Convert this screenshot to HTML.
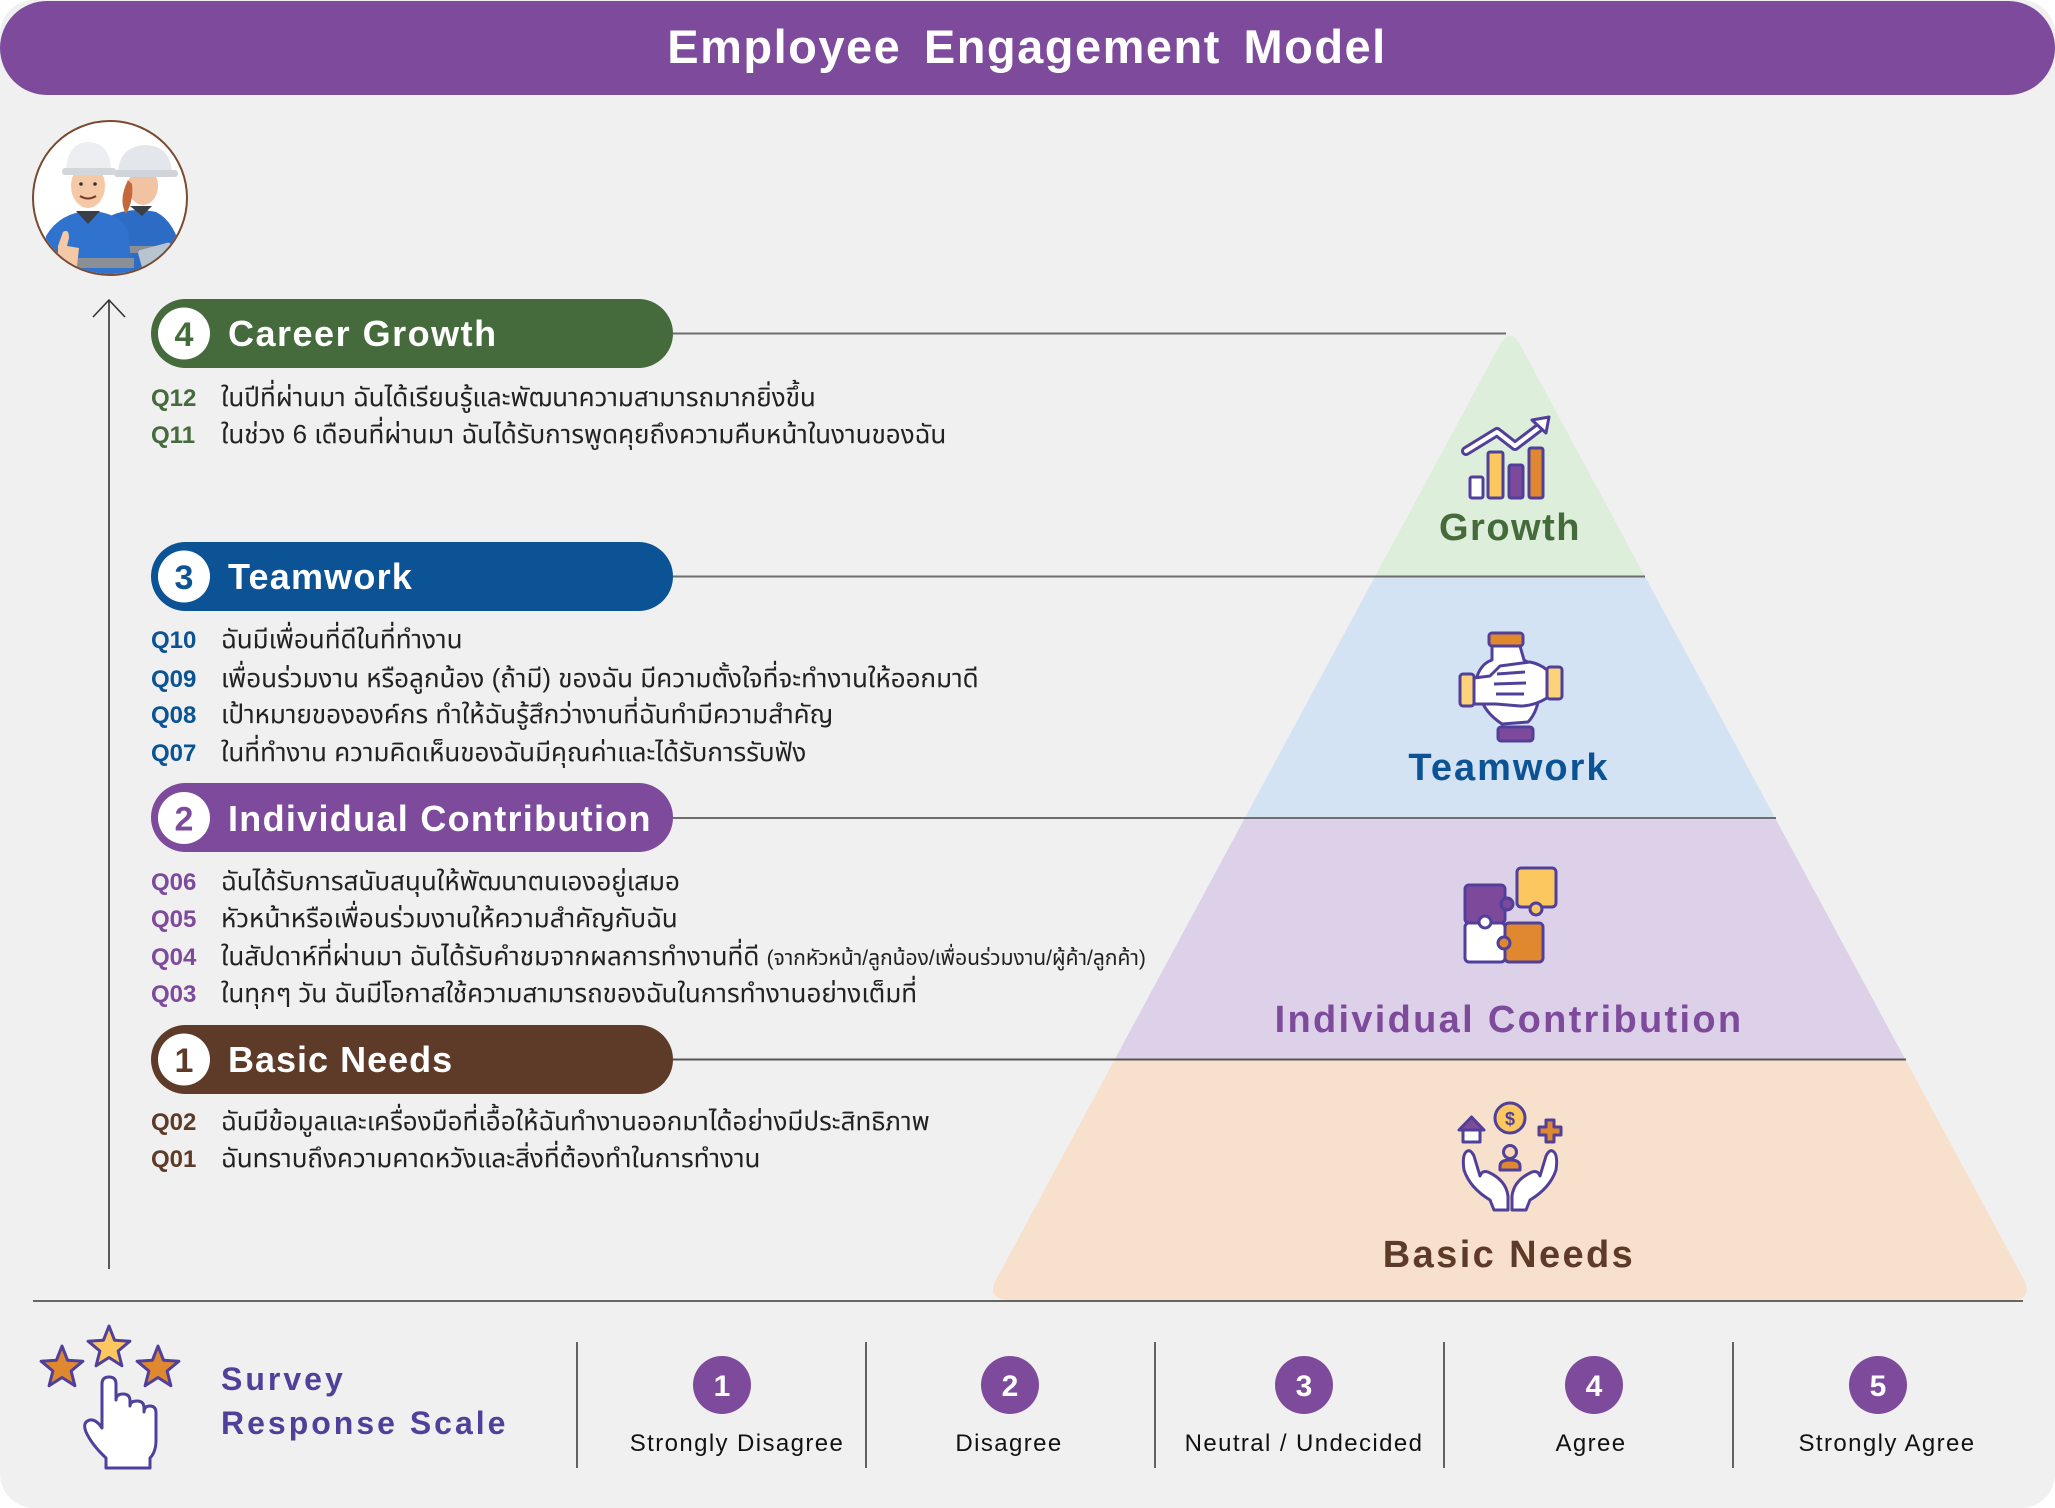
<!DOCTYPE html>
<html><head><meta charset="utf-8">
<style>
html,body{margin:0;padding:0;background:#ffffff;}
svg{display:block;}
.lat{font-family:"Liberation Sans",sans-serif;}
.th{font-family:"Liberation Sans","Noto Sans Thai","Loma","Garuda","DejaVu Sans",sans-serif;}
</style></head>
<body>
<svg width="2055" height="1508" viewBox="0 0 2055 1508" xmlns="http://www.w3.org/2000/svg">
<defs>
  <clipPath id="pyr">
    <path d="M 1499.6 345.4 Q 1510 326 1520.4 345.4 L 2023.1 1278 Q 2035 1300 2010 1300 L 1010 1300 Q 985 1300 996.9 1278 Z"/>
  </clipPath>
  <clipPath id="av"><circle cx="110" cy="198" r="76"/></clipPath>
</defs>

<!-- page -->
<rect x="0" y="0" width="2055" height="1508" rx="34" fill="#f0f0f0"/>

<!-- title bar -->
<rect x="0" y="1" width="2055" height="94" rx="47" fill="#7e4a9c"/>
<text x="1027" y="63" class="lat" font-size="47" font-weight="bold" fill="#ffffff" text-anchor="middle" letter-spacing="1.5" word-spacing="8">Employee Engagement Model</text>

<!-- avatar -->
<circle cx="110" cy="198" r="77" fill="#ffffff" stroke="#7a4a30" stroke-width="2"/>
<g clip-path="url(#av)">
  <!-- woman (back) -->
  <path d="M 106 218 Q 128 206 156 212 Q 176 222 182 256 L 186 290 L 100 290 Z" fill="#2c6cc4"/>
  <rect x="100" y="246" width="88" height="7" fill="#8a8f96"/>
  <path d="M 130 206 L 142 216 L 152 206 Z" fill="#3a3f45"/>
  <ellipse cx="143" cy="186" rx="15" ry="19" fill="#f2c3a3"/>
  <path d="M 128 180 Q 118 200 126 214 Q 134 200 132 184 Z" fill="#c46a3a"/>
  <path d="M 118 175 Q 118 146 146 145 Q 170 146 172 172 L 118 175 Z" fill="#e3e6ea"/>
  <rect x="114" y="170" width="64" height="7" rx="3" fill="#d0d4da"/>
  <rect x="140" y="246" width="34" height="24" rx="3" fill="#b8c4d0" transform="rotate(-15 157 258)"/>
  <!-- man (front) -->
  <path d="M 46 236 Q 60 212 90 211 Q 118 212 128 230 L 134 290 L 40 290 Z" fill="#2f73cf"/>
  <rect x="40" y="258" width="94" height="10" fill="#8a8f96"/>
  <path d="M 76 211 L 88 224 L 100 211 Z" fill="#3a3f45"/>
  <ellipse cx="88" cy="186" rx="17" ry="22" fill="#f5c8a6"/>
  <path d="M 80 196 Q 88 201 96 196" stroke="#7a3a2a" stroke-width="2" fill="none"/>
  <circle cx="81" cy="184" r="1.8" fill="#333"/>
  <circle cx="95" cy="184" r="1.8" fill="#333"/>
  <path d="M 66 174 Q 66 143 88 142 Q 111 143 111 172 Z" fill="#eceef1"/>
  <rect x="62" y="168" width="54" height="7" rx="3" fill="#d3d6db"/>
  <path d="M 58 246 L 63 232 Q 69 228 69 238 L 67 246 L 79 248 L 77 266 L 58 266 Z" fill="#f5c8a6"/>
</g>

<!-- vertical arrow -->
<line x1="109" y1="301" x2="109" y2="1269" stroke="#333" stroke-width="1.6"/>
<polyline points="93,317 109,300 125,317" fill="none" stroke="#333" stroke-width="1.6"/>

<!-- pyramid -->
<g clip-path="url(#pyr)">
  <rect x="980" y="320" width="1060" height="257" fill="#ddeedb"/>
  <rect x="980" y="576" width="1060" height="243" fill="#d3e3f3"/>
  <rect x="980" y="818" width="1060" height="242" fill="#dcd1e8"/>
  <rect x="980" y="1059" width="1060" height="245" fill="#f8e1cc"/>
</g>

<!-- connector lines -->
<line x1="673" y1="333.5" x2="1506" y2="333.5" stroke="#6e6e6e" stroke-width="2"/>
<line x1="673" y1="576.5" x2="1645" y2="576.5" stroke="#6e6e6e" stroke-width="2"/>
<line x1="673" y1="818" x2="1776" y2="818" stroke="#6e6e6e" stroke-width="2"/>
<line x1="673" y1="1059.5" x2="1906" y2="1059.5" stroke="#555" stroke-width="2"/>

<!-- pills -->
<rect x="151" y="299" width="522" height="69" rx="34.5" fill="#456a3c"/>
<circle cx="184" cy="333.5" r="26" fill="#fff"/>
<text x="184" y="346" class="lat" font-size="34" font-weight="bold" fill="#456a3c" text-anchor="middle">4</text>
<text x="228" y="346" class="lat" font-size="36" font-weight="bold" fill="#fff" letter-spacing="1.5">Career Growth</text>

<rect x="151" y="542" width="522" height="69" rx="34.5" fill="#0b5394"/>
<circle cx="184" cy="576.5" r="26" fill="#fff"/>
<text x="184" y="589" class="lat" font-size="34" font-weight="bold" fill="#0b5394" text-anchor="middle">3</text>
<text x="228" y="589" class="lat" font-size="36" font-weight="bold" fill="#fff" letter-spacing="1.2">Teamwork</text>

<rect x="151" y="783" width="522" height="69" rx="34.5" fill="#7e4a9c"/>
<circle cx="184" cy="818" r="26" fill="#fff"/>
<text x="184" y="830.5" class="lat" font-size="34" font-weight="bold" fill="#7e4a9c" text-anchor="middle">2</text>
<text x="228" y="831" class="lat" font-size="36" font-weight="bold" fill="#fff" letter-spacing="1.3">Individual Contribution</text>

<rect x="151" y="1025" width="522" height="69" rx="34.5" fill="#5d3b28"/>
<circle cx="184" cy="1059.5" r="26" fill="#fff"/>
<text x="184" y="1072" class="lat" font-size="34" font-weight="bold" fill="#5d3b28" text-anchor="middle">1</text>
<text x="228" y="1072" class="lat" font-size="36" font-weight="bold" fill="#fff" letter-spacing="1">Basic Needs</text>

<!-- questions -->
<g class="lat" font-size="24" font-weight="bold">
  <text x="151" y="406" fill="#456a3c">Q12</text>
  <text x="151" y="443" fill="#456a3c">Q11</text>
  <text x="151" y="648" fill="#0b5394">Q10</text>
  <text x="151" y="687" fill="#0b5394">Q09</text>
  <text x="151" y="723" fill="#0b5394">Q08</text>
  <text x="151" y="761" fill="#0b5394">Q07</text>
  <text x="151" y="890" fill="#7e4a9c">Q06</text>
  <text x="151" y="927" fill="#7e4a9c">Q05</text>
  <text x="151" y="965" fill="#7e4a9c">Q04</text>
  <text x="151" y="1002" fill="#7e4a9c">Q03</text>
  <text x="151" y="1130" fill="#5d3b28">Q02</text>
  <text x="151" y="1167" fill="#5d3b28">Q01</text>
</g>
<g class="th" font-size="26" fill="#222">
  <text x="221" y="406">ในปีที่ผ่านมา ฉันได้เรียนรู้และพัฒนาความสามารถมากยิ่งขึ้น</text>
  <text x="221" y="443">ในช่วง 6 เดือนที่ผ่านมา ฉันได้รับการพูดคุยถึงความคืบหน้าในงานของฉัน</text>
  <text x="221" y="648">ฉันมีเพื่อนที่ดีในที่ทำงาน</text>
  <text x="221" y="687">เพื่อนร่วมงาน หรือลูกน้อง (ถ้ามี) ของฉัน มีความตั้งใจที่จะทำงานให้ออกมาดี</text>
  <text x="221" y="723">เป้าหมายขององค์กร ทำให้ฉันรู้สึกว่างานที่ฉันทำมีความสำคัญ</text>
  <text x="221" y="761">ในที่ทำงาน ความคิดเห็นของฉันมีคุณค่าและได้รับการรับฟัง</text>
  <text x="221" y="890">ฉันได้รับการสนับสนุนให้พัฒนาตนเองอยู่เสมอ</text>
  <text x="221" y="927">หัวหน้าหรือเพื่อนร่วมงานให้ความสำคัญกับฉัน</text>
  <text x="221" y="965">ในสัปดาห์ที่ผ่านมา ฉันได้รับคำชมจากผลการทำงานที่ดี <tspan font-size="21">(จากหัวหน้า/ลูกน้อง/เพื่อนร่วมงาน/ผู้ค้า/ลูกค้า)</tspan></text>
  <text x="221" y="1002">ในทุกๆ วัน ฉันมีโอกาสใช้ความสามารถของฉันในการทำงานอย่างเต็มที่</text>
  <text x="221" y="1130">ฉันมีข้อมูลและเครื่องมือที่เอื้อให้ฉันทำงานออกมาได้อย่างมีประสิทธิภาพ</text>
  <text x="221" y="1167">ฉันทราบถึงความคาดหวังและสิ่งที่ต้องทำในการทำงาน</text>
</g>

<!-- Growth icon -->
<g stroke="#51409a" stroke-width="3" stroke-linejoin="round">
  <rect x="1470" y="477" width="13" height="21" rx="2" fill="#fff"/>
  <rect x="1488" y="452" width="15" height="46" rx="2" fill="#fcc75f"/>
  <rect x="1509" y="465" width="14" height="33" rx="2" fill="#7d4a9b"/>
  <rect x="1529" y="448" width="14" height="50" rx="2" fill="#e0882f"/>
</g>
<polyline points="1466,451 1497,432 1515,446 1540,427" fill="none" stroke="#51409a" stroke-width="10" stroke-linecap="round" stroke-linejoin="round"/>
<polyline points="1466,451 1497,432 1515,446 1540,427" fill="none" stroke="#fff" stroke-width="4" stroke-linecap="round" stroke-linejoin="round"/>
<polygon points="1549,417 1532,420 1546,433" fill="#fff" stroke="#51409a" stroke-width="3" stroke-linejoin="round"/>
<text x="1510" y="540" class="lat" font-size="38" font-weight="bold" fill="#456a3c" text-anchor="middle" letter-spacing="1.5">Growth</text>

<!-- Teamwork icon -->
<g stroke="#51409a" stroke-width="3" stroke-linejoin="round">
  <path d="M 1492 646 L 1520 646 L 1524 660 Q 1540 668 1540 690 Q 1538 712 1528 722 L 1502 724 Q 1484 712 1480 696 L 1476 680 Q 1480 664 1492 660 Z" fill="#fff"/>
  <path d="M 1474 678 L 1490 676 L 1500 666 L 1530 662 Q 1540 664 1547 670 L 1547 698 Q 1534 706 1520 706 L 1496 704 L 1474 704 Z" fill="#fff"/>
  <path d="M 1497 674 L 1525 672 M 1494 684 L 1526 683 M 1496 694 L 1524 694" fill="none"/>
  <rect x="1489" y="633" width="34" height="13" rx="3" fill="#e0882f"/>
  <rect x="1498" y="727" width="35" height="14" rx="3" fill="#7d4a9b"/>
  <rect x="1460" y="674" width="14" height="32" rx="3" fill="#fcd27a"/>
  <rect x="1547" y="667" width="15" height="32" rx="3" fill="#fcd27a"/>
</g>
<text x="1509" y="780" class="lat" font-size="38" font-weight="bold" fill="#0b5394" text-anchor="middle" letter-spacing="2">Teamwork</text>

<!-- Puzzle icon -->
<g stroke="#51409a" stroke-width="3" stroke-linejoin="round">
  <rect x="1517" y="868" width="39" height="39" rx="4" fill="#fcc75f"/>
  <circle cx="1536" cy="909" r="6" fill="#fcc75f"/>
  <rect x="1465" y="885" width="40" height="38" rx="4" fill="#7d4a9b"/>
  <circle cx="1507" cy="904" r="6" fill="#7d4a9b"/>
  <rect x="1465" y="923" width="40" height="39" rx="4" fill="#fff"/>
  <circle cx="1485" cy="922" r="6" fill="#fff"/>
  <rect x="1505" y="923" width="38" height="39" rx="4" fill="#e0882f"/>
  <circle cx="1504" cy="943" r="6" fill="#e0882f"/>
</g>
<text x="1509" y="1032" class="lat" font-size="38" font-weight="bold" fill="#7e4a9c" text-anchor="middle" letter-spacing="2.3">Individual Contribution</text>

<!-- Basic needs icon -->
<g stroke="#51409a" stroke-width="3" stroke-linejoin="round">
  <rect x="1463" y="1129" width="17" height="13" fill="#fff"/>
  <polygon points="1459,1130 1471.5,1117 1484,1130" fill="#7d4a9b"/>
  <circle cx="1510" cy="1118" r="15" fill="#fcc75f"/>
  <path d="M 1546 1120 L 1554 1120 L 1554 1127 L 1561 1127 L 1561 1135 L 1554 1135 L 1554 1142 L 1546 1142 L 1546 1135 L 1539 1135 L 1539 1127 L 1546 1127 Z" fill="#e0882f"/>
  <circle cx="1510" cy="1152" r="6.5" fill="#fbd5b5"/>
  <path d="M 1500 1170 L 1500 1166 Q 1500 1160 1510 1160 Q 1520 1160 1520 1166 L 1520 1170 Z" fill="#e0882f"/>
  <path d="M 1466 1152 Q 1462 1156 1464 1170 Q 1470 1188 1490 1200 L 1494 1210 L 1508 1210 L 1508 1196 Q 1506 1180 1488 1172 Q 1482 1170 1480 1176 L 1474 1156 Q 1470 1148 1466 1152 Z" fill="#fff"/>
  <path d="M 1554 1152 Q 1558 1156 1556 1170 Q 1550 1188 1530 1200 L 1526 1210 L 1512 1210 L 1512 1196 Q 1514 1180 1532 1172 Q 1538 1170 1540 1176 L 1546 1156 Q 1550 1148 1554 1152 Z" fill="#fff"/>
</g>
<text x="1510" y="1119" class="lat" font-size="18" font-weight="bold" fill="#51409a" text-anchor="middle" dominant-baseline="central">$</text>
<text x="1509" y="1267" class="lat" font-size="38" font-weight="bold" fill="#5d3b28" text-anchor="middle" letter-spacing="2.4">Basic Needs</text>

<!-- bottom divider -->
<line x1="33" y1="1301" x2="2023" y2="1301" stroke="#666" stroke-width="2"/>

<!-- survey icon -->
<g stroke="#51409a" stroke-width="3" stroke-linejoin="round">
  <polygon points="62,1346 67.6,1360.3 82.9,1361.2 71.1,1371 74.9,1385.8 62,1377.5 49.1,1385.8 52.9,1371 41.1,1361.2 56.4,1360.3" fill="#e0882f"/>
  <polygon points="109,1326 114.6,1340.3 129.9,1341.2 118.1,1351 121.9,1365.8 109,1357.5 96.1,1365.8 99.9,1351 88.1,1341.2 103.4,1340.3" fill="#fcc75f"/>
  <polygon points="158,1346 163.6,1360.3 178.9,1361.2 167.1,1371 170.9,1385.8 158,1377.5 145.1,1385.8 148.9,1371 137.1,1361.2 152.4,1360.3" fill="#e0882f"/>
  <path d="M 102 1425 L 102 1384 Q 102 1377 109 1377 Q 116 1377 116 1384 L 116 1400 Q 116 1394 123 1394 Q 130 1394 130 1401 L 130 1406 Q 130 1401 137 1401 Q 144 1401 144 1408 L 144 1412 Q 144 1406 150 1406 Q 156 1406 156 1413 L 156 1440 Q 156 1452 150 1458 L 150 1468 L 106 1468 L 106 1458 Q 92 1445 86 1432 Q 82 1422 90 1420 Q 96 1419 102 1428 Z" fill="#fff"/>
</g>
<text x="221" y="1390" class="lat" font-size="32" font-weight="bold" fill="#51409a" letter-spacing="3">Survey</text>
<text x="221" y="1434" class="lat" font-size="32" font-weight="bold" fill="#51409a" letter-spacing="3">Response Scale</text>

<!-- scale separators -->
<g stroke="#333" stroke-width="1.5">
  <line x1="577" y1="1342" x2="577" y2="1468"/>
  <line x1="866" y1="1342" x2="866" y2="1468"/>
  <line x1="1155" y1="1342" x2="1155" y2="1468"/>
  <line x1="1444" y1="1342" x2="1444" y2="1468"/>
  <line x1="1733" y1="1342" x2="1733" y2="1468"/>
</g>
<g fill="#7e4a9c">
  <circle cx="722" cy="1385" r="29"/>
  <circle cx="1010" cy="1385" r="29"/>
  <circle cx="1304" cy="1385" r="29"/>
  <circle cx="1594" cy="1385" r="29"/>
  <circle cx="1878" cy="1385" r="29"/>
</g>
<g class="lat" font-size="30" font-weight="bold" fill="#fff" text-anchor="middle">
  <text x="722" y="1396">1</text>
  <text x="1010" y="1396">2</text>
  <text x="1304" y="1396">3</text>
  <text x="1594" y="1396">4</text>
  <text x="1878" y="1396">5</text>
</g>
<g class="lat" font-size="24" fill="#111" text-anchor="middle" letter-spacing="1.4">
  <text x="737" y="1451">Strongly Disagree</text>
  <text x="1009" y="1451">Disagree</text>
  <text x="1304" y="1451">Neutral / Undecided</text>
  <text x="1591" y="1451">Agree</text>
  <text x="1887" y="1451">Strongly Agree</text>
</g>
</svg>
</body></html>
